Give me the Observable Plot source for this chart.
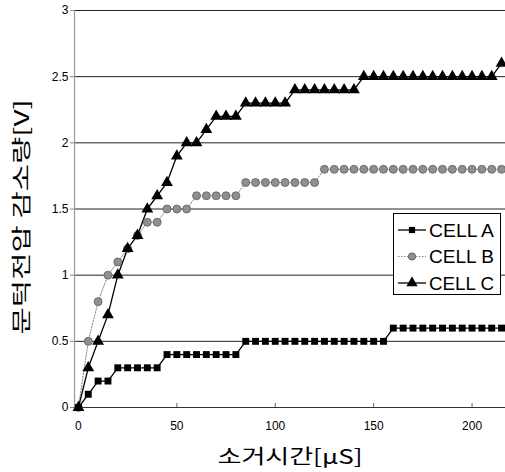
<!DOCTYPE html>
<html><head><meta charset="utf-8">
<script src="https://cdn.jsdelivr.net/npm/d3@7"></script>
<script src="https://cdn.jsdelivr.net/npm/@observablehq/plot@0.6"></script>
<style>
body{margin:0;background:#fff;}
#wrap{position:relative;width:505px;height:472px;overflow:hidden;}
#legend{position:absolute;left:393px;top:213px;width:108px;height:82px;border:1px solid #000;background:#fff;box-sizing:border-box;}
</style></head><body><div id="wrap"></div>
<script>
const times = [0,5,10,15,20,25,30,35,40,45,50,55,60,65,70,75,80,85,90,95,100,105,110,115,120,125,130,135,140,145,150,155,160,165,170,175,180,185,190,195,200,205,210,215];
const cellA = [0,0.1,0.2,0.2,0.3,0.3,0.3,0.3,0.3,0.4,0.4,0.4,0.4,0.4,0.4,0.4,0.4,0.5,0.5,0.5,0.5,0.5,0.5,0.5,0.5,0.5,0.5,0.5,0.5,0.5,0.5,0.5,0.6,0.6,0.6,0.6,0.6,0.6,0.6,0.6,0.6,0.6,0.6,0.6];
const cellB = [0,0.5,0.8,1.0,1.1,1.2,1.3,1.4,1.4,1.5,1.5,1.5,1.6,1.6,1.6,1.6,1.6,1.7,1.7,1.7,1.7,1.7,1.7,1.7,1.7,1.8,1.8,1.8,1.8,1.8,1.8,1.8,1.8,1.8,1.8,1.8,1.8,1.8,1.8,1.8,1.8,1.8,1.8,1.8];
const cellC = [0,0.3,0.5,0.7,1.0,1.2,1.3,1.5,1.6,1.7,1.9,2.0,2.0,2.1,2.2,2.2,2.2,2.3,2.3,2.3,2.3,2.3,2.4,2.4,2.4,2.4,2.4,2.4,2.4,2.5,2.5,2.5,2.5,2.5,2.5,2.5,2.5,2.5,2.5,2.5,2.5,2.5,2.5,2.6];
const seriesNames = ["CELL A","CELL B","CELL C"];
const xTicks = [0,50,100,150,200];
const yTicks = [0,0.5,1,1.5,2,2.5,3];
const xDomain = [-2,217];
const yDomain = [0,3];
const xTitle = "소거시간[μS]";
const yTitle = "문턱전압 감소량[V]";

const rowsA = times.map((t,i)=>({t, v:cellA[i]}));
const rowsB = times.map((t,i)=>({t, v:cellB[i]}));
const rowsC = times.map((t,i)=>({t, v:cellC[i]}));

const chart = Plot.plot({
  width:505, height:472,
  marginLeft:74, marginTop:10, marginBottom:65, marginRight:0,
  style:{fontFamily:"'Liberation Sans', Arial, sans-serif", fontSize:"12px", background:"#fff", color:"#000", overflow:"visible"},
  x:{domain:xDomain},
  y:{domain:yDomain},
  marks:[
    Plot.ruleY(yTicks.filter(d=>d>0), {stroke:"#222", strokeWidth:1}),
    Plot.ruleX([xDomain[0]], {stroke:"#999", strokeWidth:1.2}),
    Plot.ruleY([0], {stroke:"#333", strokeWidth:1}),
    Plot.axisY({ticks:yTicks, tickSize:4, tickPadding:2, tickFormat:d=>String(d), label:null, stroke:"#888", fontSize:12}),
    Plot.axisX({ticks:xTicks, tickSize:-4, tickPadding:18, tickFormat:d=>String(d), label:null, stroke:"#666", fontSize:12}),
    Plot.line(rowsB, {x:"t", y:"v", stroke:"#8a8a8a", strokeWidth:1, strokeDasharray:"1.5,1.5"}),
    Plot.line(rowsA, {x:"t", y:"v", stroke:"#000", strokeWidth:1.3}),
    Plot.line(rowsC, {x:"t", y:"v", stroke:"#000", strokeWidth:1.3}),
    Plot.dot(rowsB, {x:"t", y:"v", symbol:"circle", r:4, fill:"#8f8f8f", stroke:"#5e5e5e", strokeWidth:0.8}),
    Plot.dot(rowsA, {x:"t", y:"v", symbol:"square", r:3.9, fill:"#000", stroke:"none"}),
    Plot.dot(rowsC, {x:"t", y:"v", symbol:"triangle", r:4.4, fill:"#000", stroke:"none"}),
    Plot.text([yTitle], {frameAnchor:"left", textAnchor:"middle", lineAnchor:"middle", rotate:-90, dx:-52, dy:8, fontSize:20, fontFamily:"'Noto Sans CJK KR', sans-serif"}),
    Plot.text([xTitle], {frameAnchor:"bottom", textAnchor:"middle", lineAnchor:"middle", dy:50, fontSize:20, fontFamily:"'Noto Sans CJK KR', sans-serif"})
  ]
});
const wrap = document.getElementById("wrap");
wrap.appendChild(chart);
chart.querySelectorAll("text").forEach(t=>{
  if (t.textContent === xTitle) { t.setAttribute("textLength","145"); t.setAttribute("lengthAdjust","spacingAndGlyphs"); }
  if (t.textContent === yTitle) { t.setAttribute("textLength","235"); t.setAttribute("lengthAdjust","spacingAndGlyphs"); }
});

// legend
const legend = document.createElement("div");
legend.id = "legend";
const styles = [
  {sym:d3.symbolSquare, r:3.5, fill:"#000", stroke:"none", line:"#000", dash:null, lw:1.3},
  {sym:d3.symbolCircle, r:3.6, fill:"#8f8f8f", stroke:"#5e5e5e", line:"#8a8a8a", dash:"1.5,1.5", lw:1},
  {sym:d3.symbolTriangle, r:4.2, fill:"#000", stroke:"none", line:"#000", dash:null, lw:1.3}
];
const ls = d3.create("svg").attr("width",106).attr("height",80).style("display","block");
seriesNames.forEach((name,i)=>{
  const y = 16 + i*26.5;
  const s = styles[i];
  ls.append("line").attr("x1",4).attr("x2",32).attr("y1",y).attr("y2",y)
    .attr("stroke",s.line).attr("stroke-width",s.lw).attr("stroke-dasharray",s.dash);
  ls.append("path").attr("d", d3.symbol(s.sym, Math.PI*s.r*s.r)()).attr("transform",`translate(18,${y})`)
    .attr("fill",s.fill).attr("stroke",s.stroke);
  ls.append("text").attr("x",35).attr("y",y).attr("dy","0.36em")
    .attr("font-family","'Liberation Sans', Arial, sans-serif").attr("font-size",19)
    .attr("textLength",65).attr("lengthAdjust","spacingAndGlyphs")
    .text(name);
});
legend.appendChild(ls.node());
wrap.appendChild(legend);
</script>
</body></html>
